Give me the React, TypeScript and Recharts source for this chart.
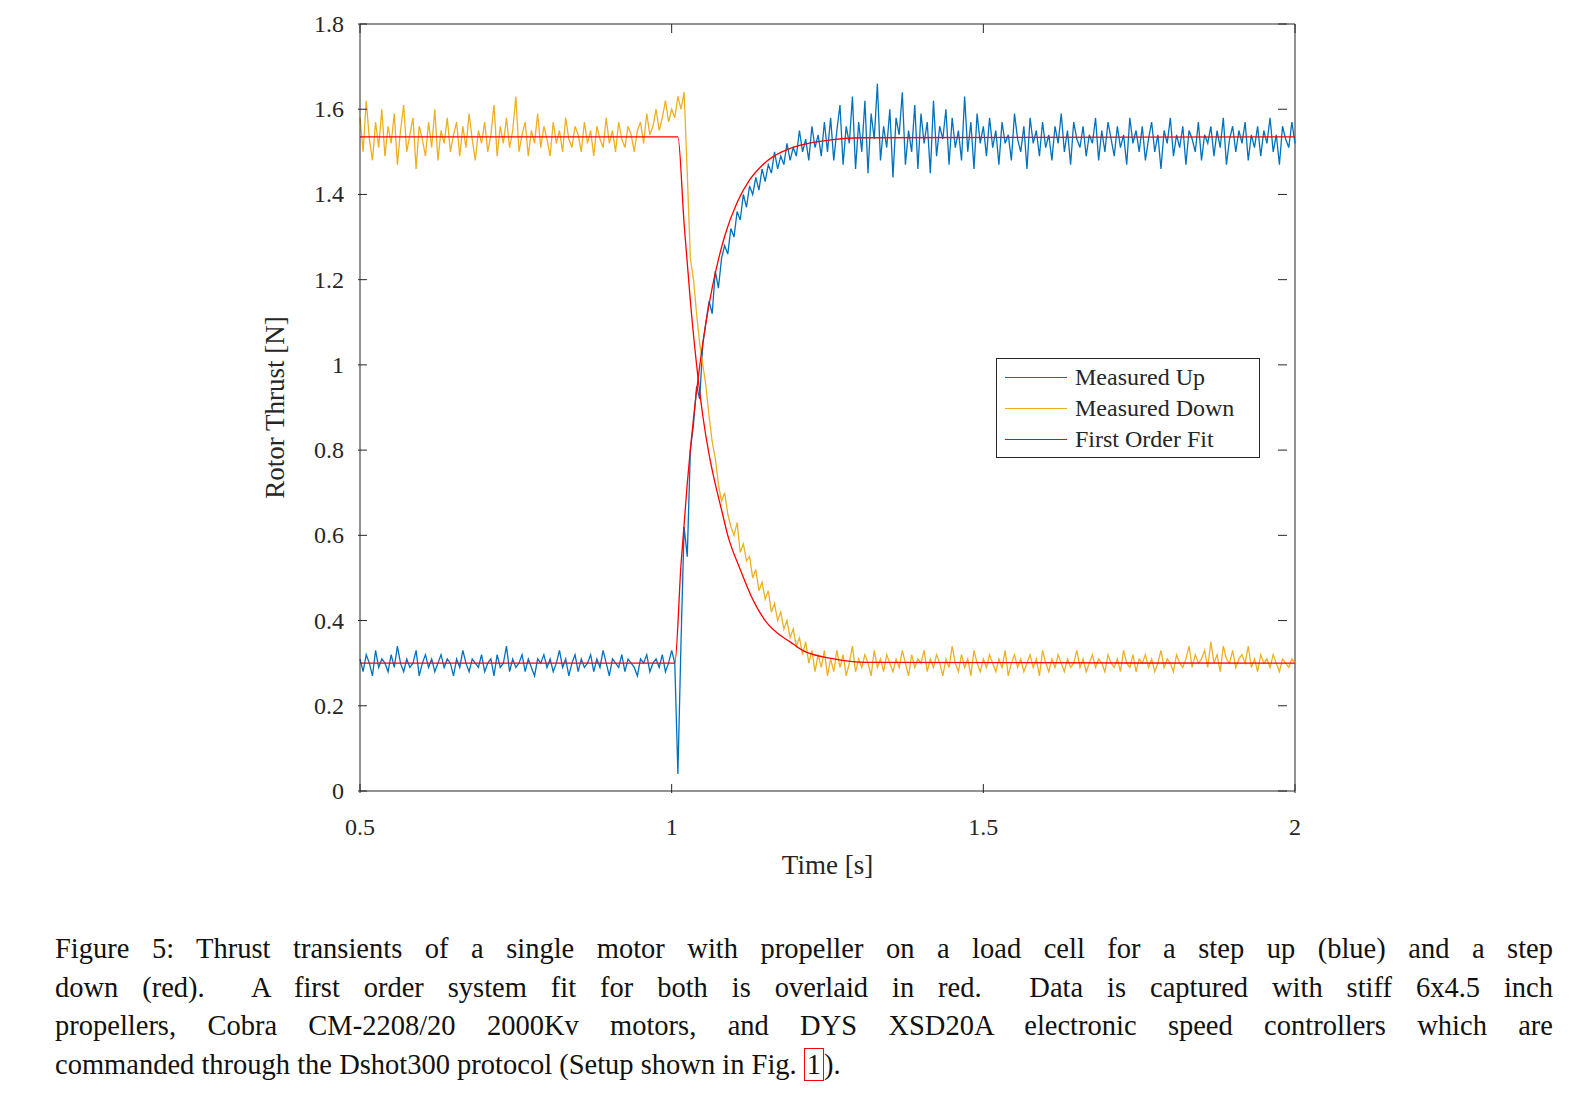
import { LineChart, Line, XAxis, YAxis, ReferenceLine } from "recharts";

const T0 = 0.5;
const DT = 0.005;

const upValues = [
  0.31, 0.28, 0.32, 0.3, 0.27, 0.33, 0.29, 0.31, 0.3, 0.28,
  0.32, 0.29, 0.34, 0.3, 0.28, 0.31, 0.29, 0.3, 0.33, 0.27,
  0.3, 0.32, 0.29, 0.31, 0.28, 0.3, 0.32, 0.29, 0.31, 0.3,
  0.27, 0.31, 0.29, 0.33, 0.3, 0.28, 0.31, 0.3, 0.29, 0.32,
  0.28, 0.3, 0.31, 0.27, 0.32, 0.29, 0.3, 0.34, 0.28, 0.31,
  0.29, 0.3, 0.32, 0.28, 0.31, 0.29, 0.27, 0.31, 0.3, 0.32,
  0.29, 0.31, 0.28, 0.3, 0.33, 0.29, 0.31, 0.27, 0.3, 0.32,
  0.28, 0.31, 0.29, 0.3, 0.32, 0.28, 0.31, 0.29, 0.33, 0.3,
  0.27, 0.31, 0.3, 0.29, 0.32, 0.28, 0.31, 0.3, 0.29, 0.27,
  0.31, 0.3, 0.32, 0.28, 0.3, 0.31, 0.29, 0.32, 0.28, 0.3,
  0.33, 0.3, 0.04, 0.35, 0.62, 0.55, 0.8, 0.86, 0.95, 0.92,
  1.05, 1.1, 1.15, 1.12, 1.22, 1.18, 1.25, 1.28, 1.26, 1.32,
  1.3, 1.36, 1.34, 1.4, 1.37, 1.42, 1.4, 1.44, 1.41, 1.46,
  1.43, 1.47, 1.45, 1.5, 1.46, 1.49, 1.47, 1.52, 1.48, 1.51,
  1.49, 1.55, 1.5, 1.53, 1.48, 1.56, 1.51, 1.54, 1.49, 1.57, 1.5,
  1.58, 1.48, 1.55, 1.61, 1.47, 1.56, 1.52, 1.63, 1.46, 1.57,
  1.5, 1.62, 1.45, 1.59, 1.53, 1.66, 1.48, 1.56, 1.51, 1.6,
  1.44, 1.58, 1.54, 1.64, 1.47, 1.55, 1.5, 1.61, 1.46, 1.59,
  1.52, 1.57, 1.45, 1.62, 1.49, 1.56, 1.53, 1.6, 1.47, 1.58,
  1.51, 1.55, 1.48, 1.63, 1.5, 1.57, 1.46, 1.59, 1.52, 1.56,
  1.49, 1.58, 1.51, 1.55, 1.47, 1.57, 1.52, 1.54, 1.48, 1.59,
  1.53, 1.5, 1.56, 1.46, 1.58, 1.52, 1.55, 1.49, 1.57, 1.51,
  1.54, 1.48, 1.56, 1.52, 1.59, 1.5, 1.55, 1.47, 1.57, 1.53,
  1.51, 1.56, 1.49, 1.54, 1.52, 1.58, 1.48, 1.55, 1.5, 1.57,
  1.53, 1.49, 1.56, 1.51, 1.54, 1.47, 1.58, 1.52, 1.55, 1.5,
  1.56, 1.48, 1.53, 1.57, 1.5, 1.54, 1.46, 1.55, 1.52, 1.58,
  1.49, 1.54, 1.51, 1.56, 1.47, 1.55, 1.53, 1.5, 1.57, 1.48,
  1.54, 1.52, 1.56, 1.49, 1.55, 1.51, 1.58, 1.47, 1.53, 1.56,
  1.5, 1.55, 1.52, 1.57, 1.48, 1.54, 1.51, 1.56, 1.49, 1.55,
  1.52, 1.58, 1.5, 1.54, 1.47, 1.56, 1.53, 1.51, 1.57, 1.52,
];

const downValues = [
  1.58, 1.5, 1.62, 1.53, 1.48, 1.57, 1.51, 1.6, 1.49, 1.56,
  1.52, 1.59, 1.47, 1.55, 1.61, 1.5, 1.54, 1.58, 1.46, 1.56,
  1.53, 1.49, 1.57, 1.51, 1.6, 1.48, 1.55, 1.52, 1.58, 1.5,
  1.54, 1.57, 1.49, 1.56, 1.51, 1.59, 1.53, 1.48, 1.55, 1.52,
  1.57, 1.5, 1.54, 1.61, 1.49, 1.56, 1.52, 1.58, 1.51, 1.55,
  1.63, 1.5, 1.54, 1.57, 1.49, 1.55, 1.52, 1.59, 1.51, 1.56,
  1.53, 1.49, 1.57, 1.52, 1.55, 1.5, 1.58, 1.53, 1.51, 1.56,
  1.54, 1.5, 1.57, 1.52, 1.55, 1.49, 1.56, 1.53, 1.51, 1.58,
  1.52, 1.55, 1.5, 1.57, 1.53, 1.51, 1.56, 1.54, 1.5, 1.55,
  1.57, 1.52, 1.59, 1.54, 1.56, 1.6, 1.55, 1.58, 1.62, 1.57,
  1.6, 1.58, 1.63, 1.6, 1.64, 1.45, 1.25, 1.2, 1.12, 1.05,
  1.0, 0.95, 0.88, 0.82, 0.78, 0.72, 0.68, 0.7, 0.65, 0.62,
  0.6, 0.63, 0.56, 0.58, 0.54, 0.55, 0.5, 0.52, 0.47, 0.49,
  0.45, 0.47, 0.42, 0.44, 0.4, 0.42, 0.38, 0.4, 0.36, 0.38,
  0.34, 0.36, 0.32, 0.35, 0.3, 0.33, 0.28, 0.32, 0.29, 0.33, 0.27,
  0.31, 0.28, 0.33, 0.29, 0.32, 0.27, 0.3, 0.34, 0.28, 0.31,
  0.29, 0.32, 0.3, 0.27, 0.33, 0.29, 0.31, 0.28, 0.32, 0.3,
  0.28, 0.31, 0.29, 0.33, 0.3, 0.27, 0.32, 0.29, 0.31, 0.3,
  0.33, 0.28, 0.31, 0.29, 0.32, 0.3, 0.27, 0.31, 0.29, 0.34,
  0.3, 0.28, 0.32, 0.29, 0.31, 0.27, 0.33, 0.3, 0.28, 0.31,
  0.29, 0.32, 0.3, 0.28, 0.31, 0.29, 0.33, 0.27, 0.3, 0.32,
  0.29, 0.31, 0.28, 0.3, 0.32, 0.29, 0.31, 0.27, 0.33, 0.3,
  0.28, 0.31, 0.29, 0.32, 0.3, 0.28, 0.31, 0.29, 0.3, 0.33,
  0.29, 0.31, 0.28, 0.3, 0.32, 0.29, 0.31, 0.3, 0.28, 0.32,
  0.3, 0.29, 0.31, 0.28, 0.33, 0.3, 0.29, 0.32, 0.28, 0.31,
  0.3, 0.32, 0.29, 0.31, 0.28, 0.3, 0.33, 0.29, 0.31, 0.3,
  0.28, 0.32, 0.3, 0.29, 0.31, 0.34, 0.29, 0.32, 0.3, 0.31,
  0.33, 0.29, 0.35, 0.3, 0.32, 0.28, 0.34, 0.31, 0.3, 0.33,
  0.29, 0.31, 0.32, 0.3, 0.34, 0.29, 0.31, 0.28, 0.32, 0.3,
  0.31, 0.29, 0.32, 0.3, 0.28, 0.31, 0.3, 0.29, 0.31, 0.3,
];

const fitUpTimes = [0.5, 1.005, 1.015, 1.025, 1.035, 1.045, 1.055, 1.065, 1.075, 1.085, 1.105, 1.125, 1.145, 1.165, 1.185, 1.205, 1.255, 1.305, 2.0];
const fitUpValues = [0.3, 0.3, 0.532, 0.721, 0.874, 0.998, 1.099, 1.181, 1.247, 1.302, 1.381, 1.434, 1.468, 1.491, 1.505, 1.515, 1.528, 1.533, 1.535];
const fitDownTimes = [0.5, 1.01, 1.02, 1.03, 1.04, 1.05, 1.06, 1.07, 1.08, 1.09, 1.11, 1.13, 1.15, 1.17, 1.19, 1.21, 1.26, 1.31, 2.0];
const fitDownValues = [1.535, 1.535, 1.33, 1.15, 1.0, 0.88, 0.79, 0.72, 0.66, 0.6, 0.52, 0.45, 0.4, 0.37, 0.35, 0.33, 0.31, 0.302, 0.3];

const xTicks = [0.5, 1, 1.5, 2];
const yTicks = [0, 0.2, 0.4, 0.6, 0.8, 1, 1.2, 1.4, 1.6, 1.8];

const captionLines = [
  "Figure 5: Thrust transients of a single motor with propeller on a load cell for a step up (blue) and a step",
  "down (red).  A first order system fit for both is overlaid in red.  Data is captured with stiff 6x4.5 inch",
  "propellers, Cobra CM-2208/20 2000Kv motors, and DYS XSD20A electronic speed controllers which are",
];

const upData = upValues.map((v, i) => ({ t: T0 + i * DT, v }));
const downData = downValues.map((v, i) => ({ t: T0 + i * DT, v }));
const fitUpData = fitUpTimes.map((t, i) => ({ t, v: fitUpValues[i] }));
const fitDownData = fitDownTimes.map((t, i) => ({ t, v: fitDownValues[i] }));

const FONT = "'Liberation Serif', 'DejaVu Serif', serif";
const BLUE = "#0072BD";
const YELLOW = "#EDB120";
const RED = "#FF0000";
const AX = "#262626";

const BottomTick = ({ x, y, payload }: any) => (
  <g>
    <line x1={x} y1={y} x2={x} y2={y - 9} stroke={AX} />
    <line x1={x} y1={24 - 8} x2={x} y2={24 - 8 + 9} stroke={AX} />
    <text x={x} y={y + 42} textAnchor="middle" fontSize={24} fontFamily={FONT} fill={AX}>
      {payload.value}
    </text>
  </g>
);
const LeftTick = ({ x, y, payload }: any) => (
  <g>
    <line x1={x} y1={y} x2={x + 9} y2={y} stroke={AX} />
    <line x1={1287 - 8} y1={y} x2={1287 - 8 - 9} y2={y} stroke={AX} />
    <text x={x - 14} y={y + 8} textAnchor="end" fontSize={24} fontFamily={FONT} fill={AX}>
      {payload.value}
    </text>
  </g>
);

const legendItems = [
  { name: "Measured Up", color: BLUE },
  { name: "Measured Down", color: YELLOW },
  { name: "First Order Fit", color: RED },
];

export default function App() {
  return (
    <div style={{ position: "relative", width: 1560, height: 1090, fontFamily: FONT }}>
      <LineChart width={1310} height={892} margin={{ top: 16, right: 23, bottom: 59, left: 292 }}>
        <XAxis
          dataKey="t"
          type="number"
          domain={[0.5, 2]}
          ticks={xTicks}
          allowDuplicatedCategory={false}
          stroke={AX}
          tickSize={0}
          tickLine={false}
          tick={<BottomTick />}
          height={50}
          label={{ value: "Time [s]", position: "bottom", offset: 14, fontSize: 27, fontFamily: FONT, fill: AX }}
        />
        <YAxis
          type="number"
          domain={[0, 1.8]}
          ticks={yTicks}
          stroke={AX}
          tickSize={0}
          tickLine={false}
          tick={<LeftTick />}
          width={60}
          label={{ value: "Rotor Thrust [N]", angle: -90, position: "left", offset: 26, fontSize: 27, fontFamily: FONT, fill: AX, style: { textAnchor: "middle" } }}
        />
        <ReferenceLine y={1.8} stroke={AX} />
        <ReferenceLine x={2} stroke={AX} />
        <Line data={upData} dataKey="v" name="Measured Up" stroke={BLUE} strokeWidth={1.3} dot={false} isAnimationActive={false} />
        <Line data={downData} dataKey="v" name="Measured Down" stroke={YELLOW} strokeWidth={1.3} dot={false} isAnimationActive={false} />
        <Line data={fitUpData} dataKey="v" name="First Order Fit" type="monotone" stroke={RED} strokeWidth={1.3} dot={false} isAnimationActive={false} />
        <Line data={fitDownData} dataKey="v" name="Fit Down" type="monotone" stroke={RED} strokeWidth={1.3} dot={false} isAnimationActive={false} />
      </LineChart>
      <div
        style={{
          position: "absolute",
          left: 988,
          top: 350,
          width: 264,
          height: 100,
          boxSizing: "border-box",
          border: "1px solid #262626",
          background: "#fff",
          padding: "3px 8px",
          fontSize: 24,
          color: AX,
          lineHeight: "31px",
        }}
      >
        {legendItems.map((it) => (
          <div key={it.name} style={{ display: "flex", alignItems: "center" }}>
            <div style={{ width: 62, height: 1.3, background: it.color, marginRight: 8 }} />
            {it.name}
          </div>
        ))}
      </div>
      <div
        style={{
          position: "absolute",
          left: 47,
          top: 922,
          width: 1498,
          fontSize: 28.5,
          lineHeight: "38.5px",
          color: "#111",
        }}
      >
        {captionLines.map((l) => (
          <div key={l} style={{ textAlign: "justify", textAlignLast: "justify", whiteSpace: "pre-wrap" }}>
            {l}
          </div>
        ))}
        <div>
          commanded through the Dshot300 protocol (Setup shown in Fig.{" "}
          <span style={{ border: "1px solid #f00", padding: "0 2px" }}>1</span>).
        </div>
      </div>
    </div>
  );
}
